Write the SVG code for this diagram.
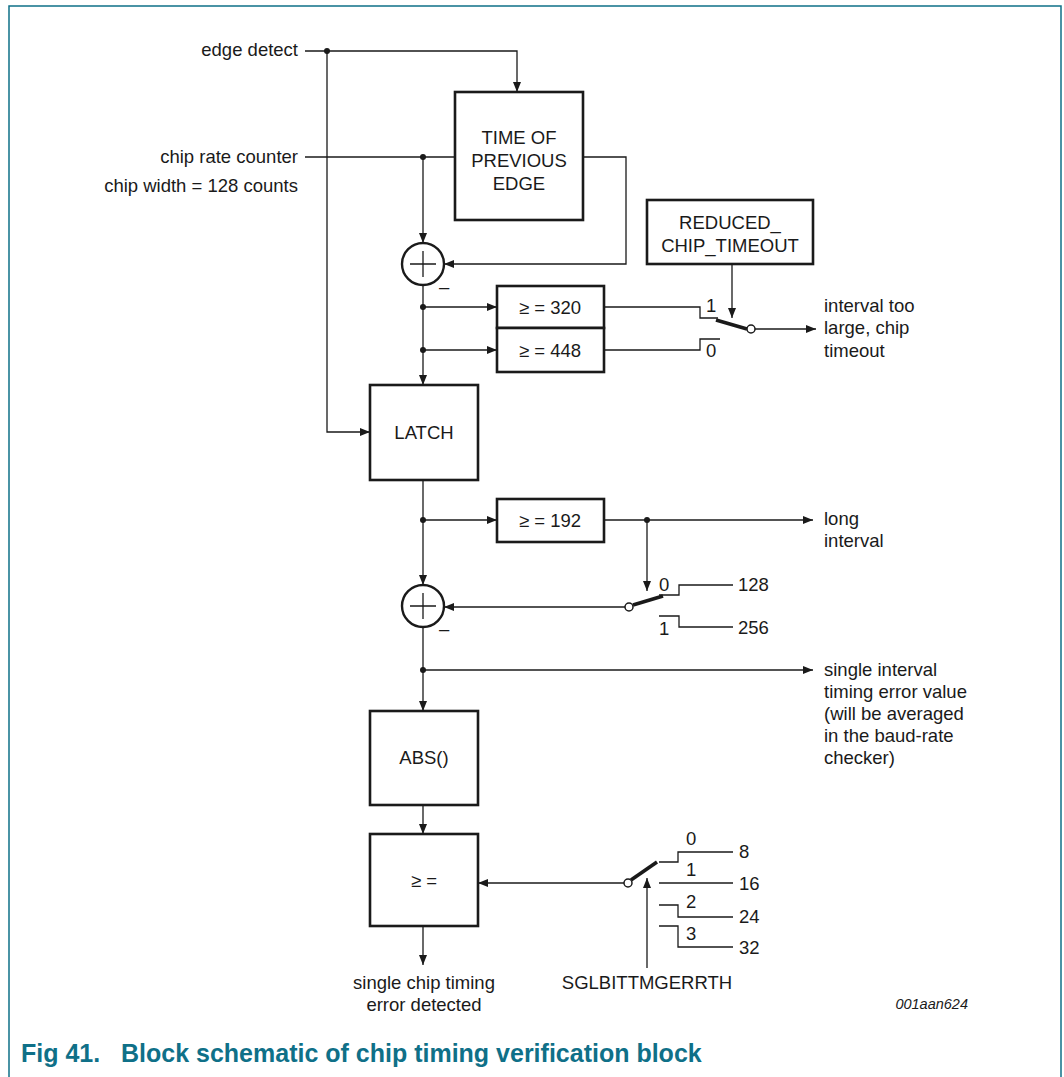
<svg xmlns="http://www.w3.org/2000/svg" width="1064" height="1077" viewBox="0 0 1064 1077">
<style>
text{font-family:"Liberation Sans",Arial,sans-serif;font-size:18.5px;fill:#1a1a1a}
.c{text-anchor:middle}
.e{text-anchor:end}
.box{fill:#fff;stroke:#1a1a1a;stroke-width:2.6}
.w{fill:none;stroke:#1a1a1a;stroke-width:1.3}
.a{marker-end:url(#ah)}
.lev{stroke:#1a1a1a;stroke-width:3.6;fill:none}
.dot{fill:#1a1a1a}
.pin{fill:#fff;stroke:#1a1a1a;stroke-width:1.5}
.add{fill:#fff;stroke:#1a1a1a;stroke-width:2.4}
.cap{font-size:25px;font-weight:bold;fill:#0f7088}
</style>
<defs>
<marker id="ah" viewBox="0 0 10 8" refX="10" refY="4" markerWidth="10" markerHeight="8" markerUnits="userSpaceOnUse" orient="auto">
<path d="M0,0 L10,4 L0,8 z" fill="#1a1a1a"/>
</marker>
</defs>
<rect x="0" y="0" width="1064" height="1077" fill="#fff"/>
<path d="M9,1077 V6 H1061 V1077" fill="none" stroke="#0f7088" stroke-width="1.5"/>

<g id="inputs">
<text class="e" x="298" y="56">edge detect</text>
<text class="e" x="298" y="163">chip rate counter</text>
<text class="e" x="298" y="192">chip width = 128 counts</text>
</g>

<g id="time-of-previous-edge">
<rect class="box" x="455" y="92" width="128" height="128"/>
<text class="c" x="519" y="144">TIME OF</text>
<text class="c" x="519" y="167">PREVIOUS</text>
<text class="c" x="519" y="190">EDGE</text>
</g>

<g id="adder1">
<circle class="add" cx="423" cy="264" r="21"/>
<path d="M410,264 H436 M423,251 V277" stroke="#1a1a1a" stroke-width="1.3"/>
<text x="439" y="293">–</text>
</g>

<g id="reduced-chip-timeout">
<rect class="box" x="647" y="200" width="166" height="64"/>
<text class="c" x="730" y="229">REDUCED_</text>
<text class="c" x="730" y="252">CHIP_TIMEOUT</text>
</g>

<g id="cmp320">
<rect class="box" x="497" y="286" width="107" height="42"/>
<text class="c" x="550" y="314">≥ = 320</text>
</g>
<g id="cmp448">
<rect class="box" x="497" y="328" width="107" height="44"/>
<text class="c" x="550" y="357">≥ = 448</text>
</g>

<g id="switch1">
<text x="706" y="312">1</text>
<text x="706" y="357">0</text>
<path class="lev" d="M716,320 L747,329"/>
<circle class="pin" cx="751" cy="329" r="4"/>
</g>
<g id="out-timeout">
<text x="824" y="312">interval too</text>
<text x="824" y="334">large, chip</text>
<text x="824" y="357">timeout</text>
</g>

<g id="latch">
<rect class="box" x="370" y="385" width="108" height="95"/>
<text class="c" x="424" y="439">LATCH</text>
</g>

<g id="cmp192">
<rect class="box" x="497" y="499" width="107" height="43"/>
<text class="c" x="550" y="527">≥ = 192</text>
</g>
<g id="out-long">
<text x="824" y="525">long</text>
<text x="824" y="547">interval</text>
</g>

<g id="adder2">
<circle class="add" cx="423" cy="606" r="21"/>
<path d="M410,606 H436 M423,593 V619" stroke="#1a1a1a" stroke-width="1.3"/>
<text x="439" y="635">–</text>
</g>

<g id="switch2">
<text x="659" y="591">0</text>
<text x="659" y="635">1</text>
<text x="738" y="591">128</text>
<text x="738" y="634">256</text>
<path class="lev" d="M633,605 L663,596"/>
<circle class="pin" cx="629" cy="607" r="4"/>
</g>

<g id="out-single-interval">
<text x="824" y="676">single interval</text>
<text x="824" y="698">timing error value</text>
<text x="824" y="720">(will be averaged</text>
<text x="824" y="742">in the baud-rate</text>
<text x="824" y="764">checker)</text>
</g>

<g id="abs">
<rect class="box" x="370" y="711" width="108" height="94"/>
<text class="c" x="424" y="764">ABS()</text>
</g>

<g id="cmp-ge">
<rect class="box" x="370" y="834" width="108" height="92"/>
<text class="c" x="424" y="887">≥ =</text>
</g>

<g id="switch3">
<text x="686" y="845">0</text>
<text x="686" y="876">1</text>
<text x="686" y="908">2</text>
<text x="686" y="940">3</text>
<text x="739" y="858">8</text>
<text x="739" y="890">16</text>
<text x="739" y="923">24</text>
<text x="739" y="954">32</text>
<path class="lev" d="M631,880 L657,862"/>
<circle class="pin" cx="628" cy="883" r="4"/>
</g>

<g id="sglbittmgerrth">
<text class="c" x="647" y="989">SGLBITTMGERRTH</text>
</g>

<g id="out-single-chip">
<text class="c" x="424" y="989">single chip timing</text>
<text class="c" x="424" y="1011">error detected</text>
</g>

<g id="connectors">
<path class="w a" d="M305,51 H517 V92"/>
<path class="w a" d="M327,51 V432 H370"/>
<path class="w" d="M305,157 H455"/>
<path class="w a" d="M423,157 V243"/>
<path class="w a" d="M583,157 H626 V264 H444"/>
<path class="w a" d="M423,285 V385"/>
<path class="w a" d="M423,307 H497"/>
<path class="w a" d="M423,350 H497"/>
<path class="w" d="M604,307 H700 V318 H718"/>
<path class="w" d="M604,350 H700 V339 H720"/>
<path class="w a" d="M732,264 V318"/>
<path class="w a" d="M755,329 H816"/>
<path class="w a" d="M423,480 V585"/>
<path class="w a" d="M423,520 H497"/>
<path class="w a" d="M604,520 H813"/>
<path class="w a" d="M647,520 V591"/>
<path class="w a" d="M625,607 H444"/>
<path class="w" d="M659,595 H679 V585 H733"/>
<path class="w" d="M659,616 H679 V627 H733"/>
<path class="w a" d="M423,627 V711"/>
<path class="w a" d="M423,670 H813"/>
<path class="w a" d="M423,805 V834"/>
<path class="w a" d="M624,883 H478"/>
<path class="w" d="M659,862 H678 V852 H733"/>
<path class="w" d="M659,883 H733"/>
<path class="w" d="M659,905 H678 V917 H733"/>
<path class="w" d="M659,926 H678 V947 H733"/>
<path class="w a" d="M647,968 V878"/>
<path class="w a" d="M423,926 V965"/>
<circle class="dot" cx="327" cy="51" r="3"/>
<circle class="dot" cx="423" cy="157" r="3"/>
<circle class="dot" cx="423" cy="307" r="3"/>
<circle class="dot" cx="423" cy="350" r="3"/>
<circle class="dot" cx="423" cy="520" r="3"/>
<circle class="dot" cx="647" cy="520" r="3"/>
<circle class="dot" cx="423" cy="670" r="3"/>
</g>

<g id="caption">
<text x="968" y="1009" class="e" style="font-size:14.5px;font-style:italic">001aan624</text>
<text class="cap" x="21" y="1062">Fig 41.<tspan x="121">Block schematic of chip timing verification block</tspan></text>
</g>
</svg>
